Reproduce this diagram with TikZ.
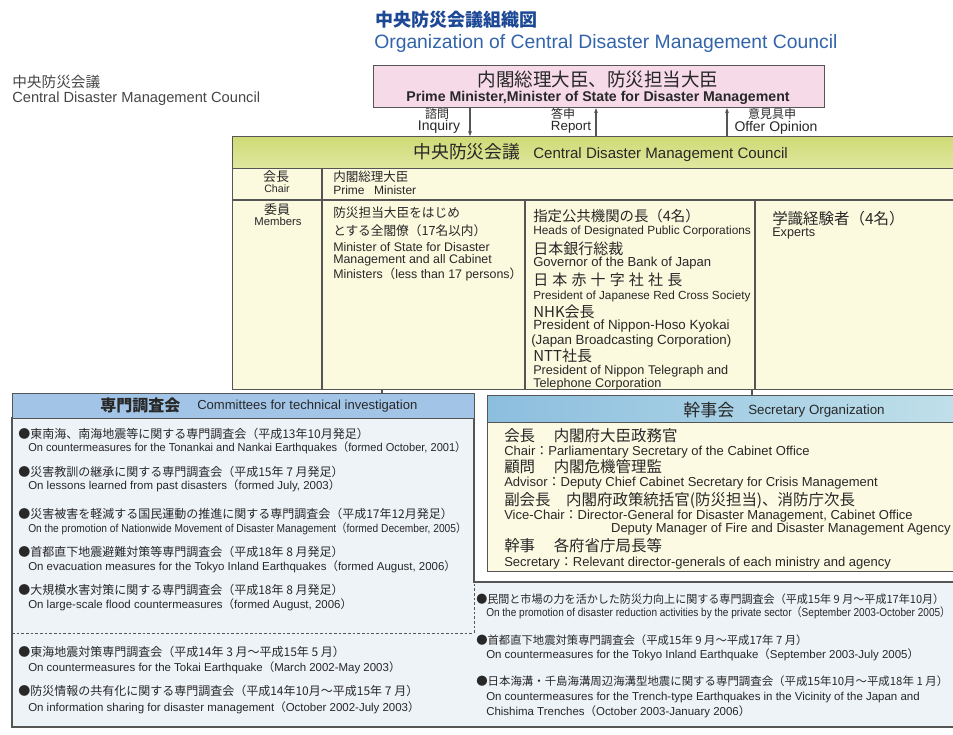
\documentclass[tikz,border=0pt]{standalone}
\usepackage{fontspec}
\usepackage{graphicx}
\setmainfont{Liberation Sans}
\newfontfamily\jp{Noto Sans CJK JP}
\usetikzlibrary{arrows.meta}
\newlength\pxu \setlength\pxu{0.75pt}
\newcommand\Jf[1]{\fontsize{#1}{#1}\jp}
\newcommand\Ef[1]{\fontsize{#1}{#1}\selectfont}
\newcommand\lpar{{\jp （}}
\newcommand\rpar{{\jp ）}}
\newcommand\jcolon{{\jp ：}}
\newcommand\fitw[2]{\resizebox{#1\pxu}{\height}{#2}}
\definecolor{lc}{RGB}{85,85,85}
\definecolor{tx}{RGB}{40,40,40}
\definecolor{ttlj}{RGB}{28,72,150}
\definecolor{ttle}{RGB}{50,100,172}
\definecolor{pinkc}{RGB}{246,218,232}
\definecolor{chtop}{RGB}{206,218,118}
\definecolor{chbot}{RGB}{224,232,160}
\definecolor{creamc}{RGB}{251,249,222}
\definecolor{chdr}{RGB}{162,197,231}
\definecolor{cbody}{RGB}{238,243,248}
\definecolor{sL}{RGB}{140,190,222}
\definecolor{sR}{RGB}{192,224,234}
\definecolor{sbody}{RGB}{252,250,226}
\definecolor{grayt}{RGB}{70,70,70}
\begin{document}
\begin{tikzpicture}[x=0.75pt,y=-0.75pt,
  ln/.style={draw=lc, line width=0.9pt},
  box/.style={draw=lc, line width=0.9pt, inner sep=0pt, anchor=north west},
  tl/.style={inner sep=0pt, anchor=west, text=tx},
  tm/.style={inner sep=0pt, anchor=center, text=tx},
  tr/.style={inner sep=0pt, anchor=east, text=tx},
  arr/.style={ln, -{Stealth[length=3.75pt,width=3pt]}}]
\clip (0,0) rectangle (953,735);
\fill[white] (0,0) rectangle (953,735);

% ---------- titles
\node[tl, text=ttlj, font=\Jf{13.5}\bfseries] (ttj) at (375,20) {中央防災会議組織図};
\node[tl, text=ttle, font=\Ef{14.5}] (tte) at (374,44) {Organization of Central Disaster Management Council};
\node[tl, text=grayt, font=\Jf{11}] (lfj) at (12,82) {中央防災会議};
\node[tl, text=grayt, font=\Ef{11}] (lfe) at (12,99) {Central Disaster Management Council};

% ---------- boxes
\node[box, fill=pinkc, minimum width=451\pxu, minimum height=42\pxu] (pm) at (373,65) {};
\node[box, top color=chtop, bottom color=chbot, minimum width=730\pxu, minimum height=32\pxu] (chead) at (232,136) {};
\node[box, fill=creamc, minimum width=730\pxu, minimum height=221\pxu] (council) at (232,168) {};
\draw[ln] (322,168) -- (322,389);
\draw[ln] (232,200) -- (962,200);
\draw[ln] (525,200) -- (525,389);
\draw[ln] (755,200) -- (755,389);

\filldraw[fill=cbody, ln] (12,418) -- (474,418) -- (474,582) -- (962,582) -- (962,727) -- (12,727) -- cycle;
\node[box, fill=chdr, minimum width=462\pxu, minimum height=25\pxu] (commhead) at (12,393) {};
\draw[lc, line width=0.7pt, dash pattern=on 2pt off 1.5pt] (12,633) -- (474,633) -- (474,582);

\node[box, left color=sL, right color=sR, minimum width=470\pxu, minimum height=27\pxu] (sechead) at (487,395) {};
\node[box, fill=sbody, minimum width=470\pxu, minimum height=149\pxu] (secbody) at (487,422) {};

% ---------- connectors
\coordinate (k1) at (382,0);
\coordinate (k2) at (752,0);
\draw[ln] (council.south -| k1) -- (commhead.north -| k1);
\draw[ln] (council.south -| k2) -- (sechead.north -| k2);
\coordinate (a1) at (470,0);
\coordinate (a2) at (596,0);
\coordinate (a3) at (727,0);
\draw[arr] (pm.south -| a1) -- (chead.north -| a1);
\draw[arr] (chead.north -| a2) -- (pm.south -| a2);
\draw[arr] (chead.north -| a3) -- (pm.south -| a3);

% ---------- PM box texts
\node[tm, font=\Jf{13.9}] (pmj) at (598,79) {内閣総理大臣、防災担当大臣};
\node[tm, font=\Ef{10.6}\bfseries] (pme) at (598,98) {Prime Minister,Minister of State for Disaster Management};
\node[tm, font=\Jf{9}] (q1j) at (437,114) {諮問};
\node[tm, font=\Ef{10.5}] (q1e) at (439,127) {Inquiry};
\node[tm, font=\Jf{9}] (q2j) at (563,114) {答申};
\node[tm, font=\Ef{10}] (q2e) at (571,127) {Report};
\node[tm, font=\Jf{9}] (q3j) at (772,114) {意見具申};
\node[tm, font=\Ef{10.5}] (q3e) at (776,128) {Offer Opinion};

% ---------- council texts
\node[tl, font=\Jf{13.4}] (chj) at (413,152) {中央防災会議};
\node[tl, font=\Ef{11.3}] (che) at (533,155) {Central Disaster Management Council};
\node[tm, font=\Jf{9.75}] (chairj) at (276,177) {会長};
\node[tm, font=\Ef{8}] (chaire) at (277,189) {Chair};
\node[tl, font=\Jf{9.4}] (pmnj) at (333,177) {内閣総理大臣};
\node[tl, font=\Ef{9}] (pmne) at (333,190) {Prime\hspace{0.8em}Minister};
\node[tm, font=\Jf{9.75}] (memj) at (277,210) {委員};
\node[tm, font=\Ef{8.5}] (meme) at (278,221) {Members};

\node[tl, font=\Jf{9.5}] (m1a) at (333,213) {防災担当大臣をはじめ};
\node[tl, font=\Jf{9.5}] (m1b) at (333,231) {とする全閣僚（17名以内）};
\node[tl, font=\Ef{9.3}] (m1c) at (333,247) {Minister of State for Disaster};
\node[tl, font=\Ef{9.3}] (m1d) at (333,260) {Management and all Cabinet};
\node[tl, font=\Ef{9.3}] (m1e) at (333,274) {Ministers\lpar less than 17 persons\rpar};

\node[tl, font=\Jf{10.8}] (m2a) at (533,216) {指定公共機関の長（4名）};
\node[tl, font=\Ef{8.9}] (m2b) at (533,231) {Heads of Designated Public Corporations};
\node[tl, font=\Jf{11.25}] (m2c) at (533,249) {日本銀行総裁};
\node[tl, font=\Ef{9.8}] (m2d) at (533,263) {Governor of the Bank of Japan};
\node[tl, font=\Jf{11.25}] (m2e) at (533,280) {\makebox[149\pxu][s]{日\hfil 本\hfil 赤\hfil 十\hfil 字\hfil 社\hfil 社\hfil 長}};
\node[tl, font=\Ef{8.8}] (m2f) at (533,296) {President of Japanese Red Cross Society};
\node[tl, font=\Jf{11.25}] (m2g) at (533,312) {NHK会長};
\node[tl, font=\Ef{10}] (m2h) at (533,326) {President of Nippon-Hoso Kyokai};
\node[tl, font=\Ef{10}] (m2i) at (531,341) {(Japan Broadcasting Corporation)};
\node[tl, font=\Jf{11.25}] (m2j) at (533,356) {NTT社長};
\node[tl, font=\Ef{9.5}] (m2k) at (533,371) {President of Nippon Telegraph and};
\node[tl, font=\Ef{9.5}] (m2l) at (533,384) {Telephone Corporation};

\node[tl, font=\Jf{11.6}] (m3a) at (772,219) {学識経験者（4名）};
\node[tl, font=\Ef{9.5}] (m3b) at (772,233) {Experts};

% ---------- committees
\node[tl, font=\Jf{12}\bfseries] (cmj) at (100,405) {専門調査会};
\node[tl, font=\Ef{9.8}] (cme) at (197,406) {Committees for technical investigation};

\node[tl, font=\Jf{9}] (c1j) at (18,434) {●東南海、南海地震等に関する専門調査会（平成13年10月発足）};
\node[tl, font=\Ef{8.6}] (c1e) at (28,448) {\fitw{438}{On countermeasures for the Tonankai and Nankai Earthquakes\lpar formed October, 2001\rpar}};
\node[tl, font=\Jf{9}] (c2j) at (18,472) {●災害教訓の継承に関する専門調査会（平成15年 7 月発足）};
\node[tl, font=\Ef{8.6}] (c2e) at (28,486) {On lessons learned from past disasters\lpar formed July, 2003\rpar};
\node[tl, font=\Jf{9}] (c3j) at (18,514) {●災害被害を軽減する国民運動の推進に関する専門調査会（平成17年12月発足）};
\node[tl, font=\Ef{8.6}] (c3e) at (28,529) {\fitw{438}{On the promotion of Nationwide Movement of Disaster Management\lpar formed December, 2005\rpar}};
\node[tl, font=\Jf{9}] (c4j) at (18,552) {●首都直下地震避難対策等専門調査会（平成18年 8 月発足）};
\node[tl, font=\Ef{8.6}] (c4e) at (28,567) {On evacuation measures for the Tokyo Inland Earthquakes\lpar formed August, 2006\rpar};
\node[tl, font=\Jf{9}] (c5j) at (18,590) {●大規模水害対策に関する専門調査会（平成18年 8 月発足）};
\node[tl, font=\Ef{8.6}] (c5e) at (28,605) {On large-scale flood countermeasures\lpar formed August, 2006\rpar};
\node[tl, font=\Jf{9}] (c6j) at (18,652) {●東海地震対策専門調査会（平成14年 3 月～平成15年 5 月）};
\node[tl, font=\Ef{8.6}] (c6e) at (28,668) {On countermeasures for the Tokai Earthquake\lpar March 2002-May 2003\rpar};
\node[tl, font=\Jf{9}] (c7j) at (18,691) {●防災情報の共有化に関する専門調査会（平成14年10月～平成15年 7 月）};
\node[tl, font=\Ef{8.6}] (c7e) at (28,708) {On information sharing for disaster management\lpar October 2002-July 2003\rpar};

\node[tl, font=\Jf{8.5}] (r1j) at (476,599) {\fitw{468}{●民間と市場の力を活かした防災力向上に関する専門調査会（平成15年 9 月～平成17年10月）}};
\node[tl, font=\Ef{8.6}] (r1e) at (486,613) {\fitw{464}{On the promotion of disaster reduction activities by the private sector\lpar September 2003-October 2005\rpar}};
\node[tl, font=\Jf{8.5}] (r2j) at (476,640) {●首都直下地震対策専門調査会（平成15年 9 月～平成17年 7 月）};
\node[tl, font=\Ef{8.6}] (r2e) at (486,655) {On countermeasures for the Tokyo Inland Earthquake\lpar September 2003-July 2005\rpar};
\node[tl, font=\Jf{8.5}] (r3j) at (476,681) {\fitw{472}{●日本海溝・千島海溝周辺海溝型地震に関する専門調査会（平成15年10月～平成18年 1 月）}};
\node[tl, font=\Ef{8.6}] (r3e) at (486,698) {On countermeasures for the Trench-type Earthquakes in the Vicinity of the Japan and};
\node[tl, font=\Ef{8.6}] (r3f) at (486,712) {Chishima Trenches\lpar October 2003-January 2006\rpar};

% ---------- secretary
\node[tl, font=\Jf{12.75}] (shj) at (683,410) {幹事会};
\node[tl, font=\Ef{10}] (she) at (748,411) {Secretary Organization};
\node[tl, font=\Jf{11.6}] (s1) at (504,436) {会長\hspace{1.2em}内閣府大臣政務官};
\node[tl, font=\Ef{9.75}] (s2) at (504,452) {Chair\jcolon Parliamentary Secretary of the Cabinet Office};
\node[tl, font=\Jf{11.6}] (s3) at (504,467) {顧問\hspace{1.2em}内閣危機管理監};
\node[tl, font=\Ef{9.75}] (s4) at (504,483) {Advisor\jcolon Deputy Chief Cabinet Secretary for Crisis Management};
\node[tl, font=\Jf{11.6}] (s5) at (504,500) {副会長\hspace{1em}内閣府政策統括官(防災担当)、消防庁次長};
\node[tl, font=\Ef{9.75}] (s6) at (504,516) {Vice-Chair\jcolon Director-General for Disaster Management, Cabinet Office};
\node[tr, font=\Ef{9.75}] (s7) at (951,529) {Deputy Manager of Fire and Disaster Management Agency};
\node[tl, font=\Jf{11.6}] (s8) at (504,546) {幹事\hspace{1.2em}各府省庁局長等};
\node[tl, font=\Ef{9.75}] (s9) at (504,563) {Secretary\jcolon Relevant director-generals of each ministry and agency};
\end{tikzpicture}
\end{document}
